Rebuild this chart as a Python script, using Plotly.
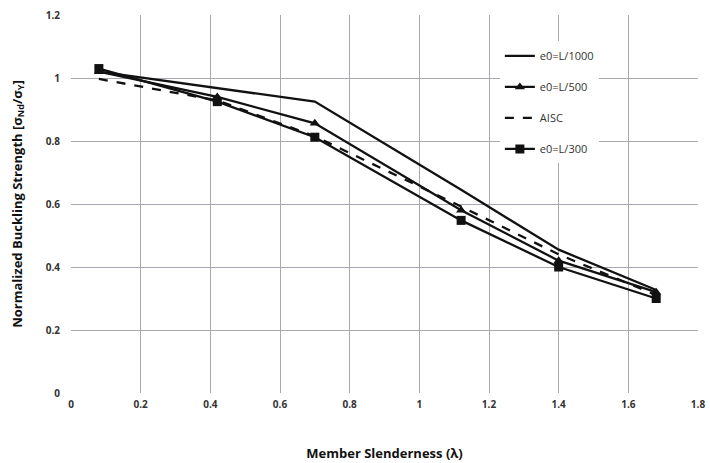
import plotly.graph_objects as go

x_vals = [0.08, 0.42, 0.70, 1.12, 1.40, 1.68]
e0_1000 = [1.02, 0.967, 0.925, 0.645, 0.455, 0.327]
e0_500 = [1.02, 0.94, 0.856, 0.58, 0.42, 0.32]
aisc = [0.997, 0.929, 0.815, 0.592, 0.44, 0.311]
e0_300 = [1.03, 0.925, 0.812, 0.548, 0.40, 0.30]

x_ticks = [0, 0.2, 0.4, 0.6, 0.8, 1, 1.2, 1.4, 1.6, 1.8]
y_ticks = [0, 0.2, 0.4, 0.6, 0.8, 1, 1.2]

fig = go.Figure()
series = [
    ("e0=L/1000", e0_1000, dict(dash="solid"), None),
    ("e0=L/500", e0_500, dict(dash="solid"), "triangle-up"),
    ("AISC", aisc, dict(dash="dash"), None),
    ("e0=L/300", e0_300, dict(dash="solid"), "square"),
]
for i, (name, ys, ls, sym) in enumerate(series):
    fig.add_trace(go.Scatter(
        x=x_vals, y=ys, name=name, legendgroup=str(i),
        mode="lines+markers" if sym else "lines",
        line=dict(color="#111111", width=2.3, **ls),
        marker=dict(symbol=sym or "circle", size=9, color="#111111"),
    ))

font_fam = "Open Sans, Lato, sans-serif"
fig.update_layout(
    width=710, height=463,
    margin=dict(l=71, r=12, t=15, b=70),
    plot_bgcolor="white", paper_bgcolor="white",
    font=dict(family=font_fam, color="#222222"),
    legend=dict(x=0.684, y=0.93, xanchor="left", yanchor="top",
                bgcolor="white", borderwidth=0, tracegroupgap=12,
                font=dict(size=11, color="#333333"), itemwidth=30),
    xaxis=dict(range=[0, 1.8], tickvals=x_ticks, ticktext=[f"{v:g}" for v in x_ticks],
               showgrid=True, gridcolor="#a8a8b0", gridwidth=1,
               zeroline=False, showline=False, ticks="", automargin=False,
               tickfont=dict(size=10, family=font_fam, weight="bold", color="#333333"),
               ticklabelstandoff=4,
               title=dict(text="Member Slenderness (λ)", standoff=38,
                          font=dict(size=13, weight="bold", color="#111111"))),
    yaxis=dict(range=[0, 1.2], tickvals=y_ticks, ticktext=[f"{v:g}" for v in y_ticks],
               showgrid=True, gridcolor="#a8a8b0", gridwidth=1,
               zeroline=False, showline=False, ticks="", automargin=False,
               tickfont=dict(size=10, family=font_fam, weight="bold", color="#333333"),
               ticklabelstandoff=10,
               title=dict(text="Normalized Buckling Strength [σ<sub>Nd</sub>/σ<sub>Y</sub>]", standoff=20,
                          font=dict(size=13, weight="bold", color="#111111"))),
)
fig.write_html("out.html", config={"displayModeBar": False},
               post_script="document.body.style.margin='0';document.body.style.padding='0';")
